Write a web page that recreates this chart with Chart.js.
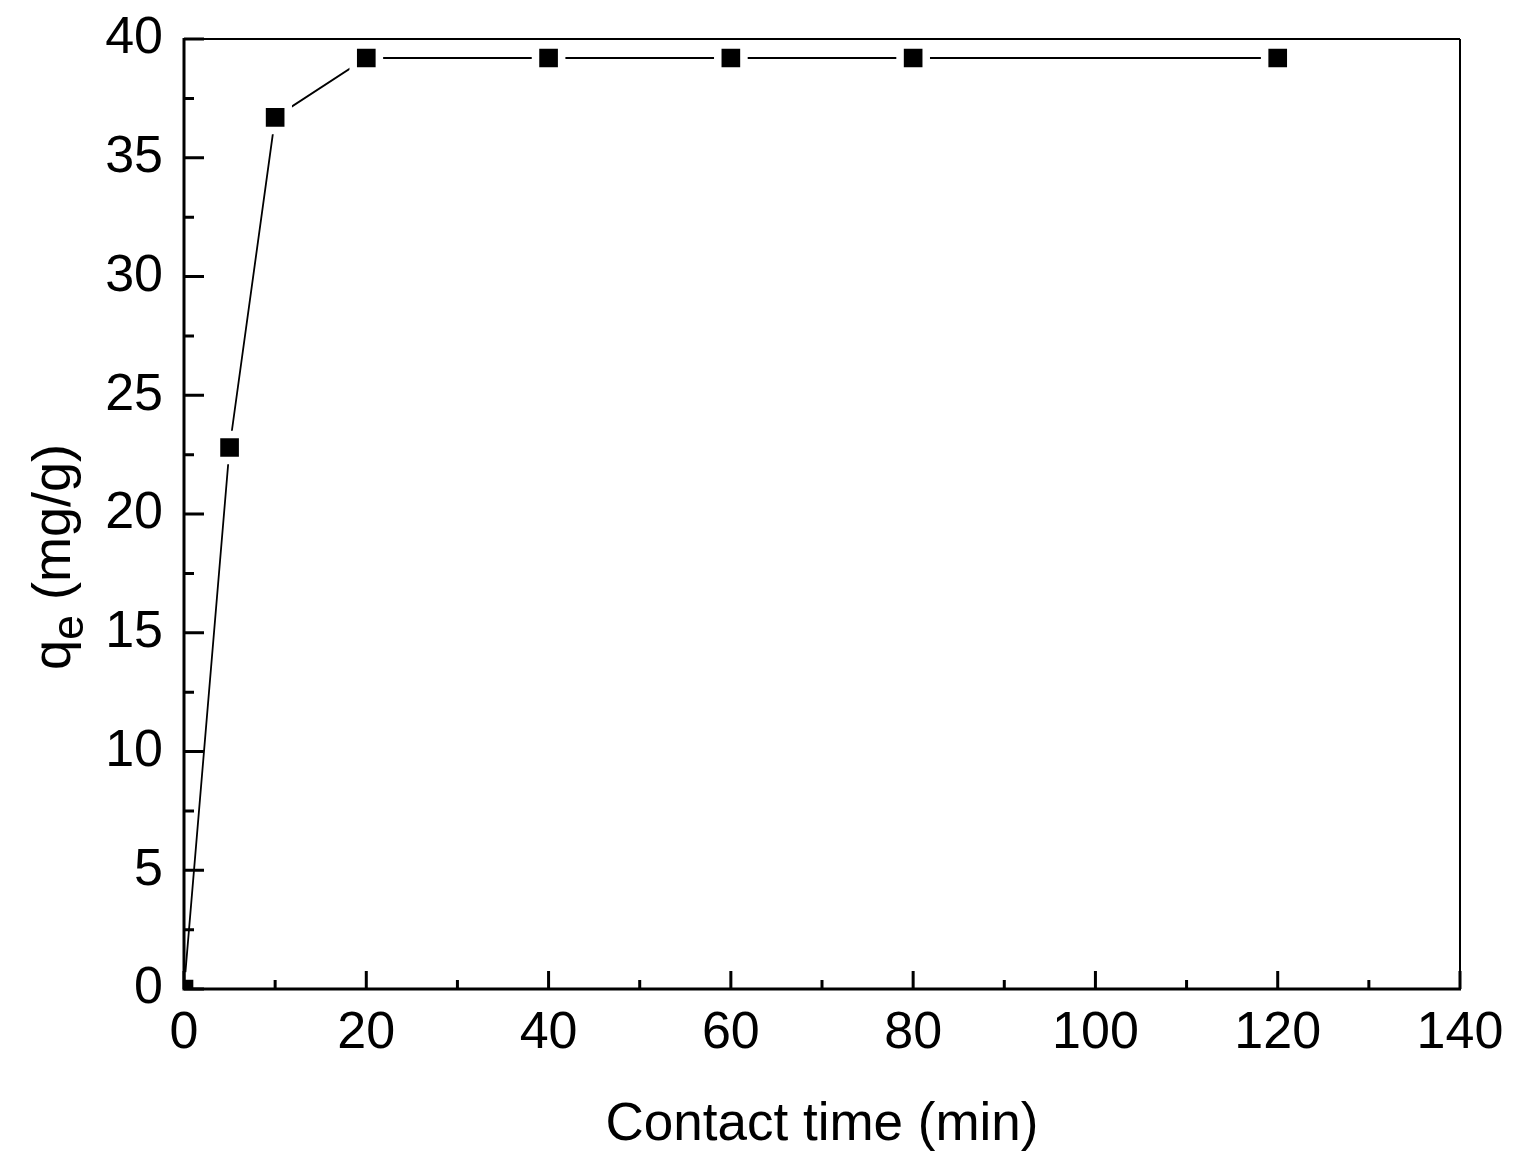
<!DOCTYPE html>
<html>
<head>
<meta charset="utf-8">
<script src="https://cdn.jsdelivr.net/npm/chart.js@4/dist/chart.umd.min.js"></script>
<style>
  html, body { margin: 0; padding: 0; background: #ffffff; }
  #wrap { width: 1514px; height: 1172px; position: relative; }
</style>
</head>
<body>
<div id="wrap"><canvas id="c"></canvas></div>
<script>
// ---- data ----
const contactTime = [0, 5, 10, 20, 40, 60, 80, 120];          // min
const qeValues    = [0, 22.8, 36.7, 39.2, 39.2, 39.2, 39.2, 39.2]; // mg/g
const xTicks = [0, 20, 40, 60, 80, 100, 120, 140];
const yTicks = [0, 5, 10, 15, 20, 25, 30, 35, 40];
const xTitle = 'Contact time (min)';
const yTitleMain = 'q';
const yTitleSub = 'e';
const yTitleRest = ' (mg/g)';

const FONT = "'Liberation Sans', Arial, Helvetica, sans-serif";

function noOverflow(s) {
  s.paddingTop = 0; s.paddingBottom = 0; s.paddingLeft = 0; s.paddingRight = 0;
}

// frame + inward ticks (major and minor), drawn with the scales' own pixel mapping
const framePlugin = {
  id: 'frame',
  afterDatasetsDraw(chart) {
    const {ctx, chartArea: a, scales: {x, y}} = chart;
    ctx.save();
    ctx.strokeStyle = '#000';
    ctx.lineCap = 'butt';
    // top & right thin
    ctx.lineWidth = 2;
    ctx.beginPath();
    ctx.moveTo(a.left, a.top); ctx.lineTo(a.right, a.top);
    ctx.moveTo(a.right, a.top); ctx.lineTo(a.right, a.bottom);
    ctx.stroke();
    // left & bottom thick
    ctx.lineWidth = 3;
    ctx.beginPath();
    ctx.moveTo(a.left, a.top - 1); ctx.lineTo(a.left, a.bottom + 1.5);
    ctx.moveTo(a.left - 1.5, a.bottom); ctx.lineTo(a.right + 1, a.bottom);
    ctx.stroke();
    // ticks
    ctx.lineWidth = 3;
    ctx.beginPath();
    const xs = xTicks;
    for (let i = 0; i < xs.length; i++) {
      const px = x.getPixelForValue(xs[i]);
      ctx.moveTo(px, a.bottom); ctx.lineTo(px, a.bottom - 18);
      if (i < xs.length - 1) {
        const pm = x.getPixelForValue((xs[i] + xs[i + 1]) / 2);
        ctx.moveTo(pm, a.bottom); ctx.lineTo(pm, a.bottom - 9);
      }
    }
    const ys = yTicks;
    for (let i = 0; i < ys.length; i++) {
      const py = y.getPixelForValue(ys[i]);
      ctx.moveTo(a.left, py); ctx.lineTo(a.left + 20, py);
      if (i < ys.length - 1) {
        const pm = y.getPixelForValue((ys[i] + ys[i + 1]) / 2);
        ctx.moveTo(a.left, pm); ctx.lineTo(a.left + 10, pm);
      }
    }
    ctx.stroke();
    ctx.restore();
  },
  afterDraw(chart) {
    // y-axis title with subscript
    const {ctx} = chart;
    ctx.save();
    ctx.fillStyle = '#000';
    ctx.translate(70, 670);
    ctx.rotate(-Math.PI / 2);
    ctx.textAlign = 'left';
    ctx.textBaseline = 'alphabetic';
    ctx.font = '54px ' + FONT;
    ctx.fillText(yTitleMain, 0, 0);
    let off = ctx.measureText(yTitleMain).width;
    ctx.font = '45px ' + FONT;
    ctx.fillText(yTitleSub, off, 13);
    off += ctx.measureText(yTitleSub).width;
    ctx.font = '54px ' + FONT;
    ctx.fillText(yTitleRest, off, 0);
    ctx.restore();
  }
};

new Chart(document.getElementById('c'), {
  type: 'line',
  data: {
    datasets: [{
      data: contactTime.map((t, i) => ({x: t, y: qeValues[i]})),
      borderColor: '#000',
      borderWidth: 1.8,
      pointStyle: 'rect',
      pointRadius: 18.5,
      pointBackgroundColor: '#000',
      pointBorderColor: '#fff',
      pointBorderWidth: 7.5,
      tension: 0,
      clip: 0
    }]
  },
  options: {
    responsive: true,
    maintainAspectRatio: false,
    animation: false,
    events: [],
    layout: { padding: { top: 39, right: 54, left: 0, bottom: 0 } },
    plugins: { legend: { display: false }, tooltip: { enabled: false } },
    scales: {
      x: {
        type: 'linear',
        min: 0, max: 140,
        afterFit(s) { s.height = 183; noOverflow(s); },
        afterBuildTicks(s) { s.ticks = xTicks.map(v => ({value: v})); },
        grid: { display: false, drawTicks: false },
        border: { display: false },
        ticks: { color: '#000', font: { family: FONT, size: 52 }, padding: 13, maxRotation: 0 },
        title: { display: true, text: xTitle, color: '#000', font: { family: FONT, size: 53 }, padding: { top: 0, bottom: 15 } }
      },
      y: {
        type: 'linear',
        min: 0, max: 40,
        afterFit(s) { s.width = 184; noOverflow(s); },
        afterBuildTicks(s) { s.ticks = yTicks.map(v => ({value: v})); },
        grid: { display: false, drawTicks: false },
        border: { display: false },
        ticks: { color: '#000', font: { family: FONT, size: 52 }, padding: 21 }
      }
    }
  },
  plugins: [framePlugin]
});
</script>
</body>
</html>
